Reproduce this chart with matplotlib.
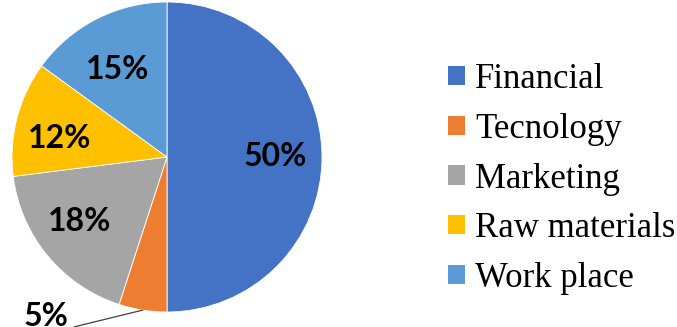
import numpy as np
import matplotlib
matplotlib.use("Agg")
import matplotlib.pyplot as plt
from matplotlib.patches import Patch

categories = ["Financial", "Tecnology", "Marketing", "Raw materials", "Work place"]
values = [50, 5, 18, 12, 15]
colors = ["#4472C4", "#ED7D31", "#A5A5A5", "#FFC000", "#5B9BD5"]

W, H = 677, 327
fig = plt.figure(figsize=(W / 100, H / 100), dpi=100)
cx, cy, R = 167, 157, 155
ax = fig.add_axes([(cx - R) / W, (H - cy - R) / H, 2 * R / W, 2 * R / H])

wedges, texts, autotexts = ax.pie(
    values, colors=colors, startangle=90, counterclock=False,
    autopct=lambda p: f"{p:.0f}%", pctdistance=0.70,
    wedgeprops=dict(edgecolor="white", linewidth=0.6),
    textprops=dict(family="Lato", fontweight="bold", fontsize=23, color="black"),
)
ax.set_xlim(-1, 1)
ax.set_ylim(-1, 1)
ax.set_aspect("equal")
ax.axis("off")

# slight label placement tweaks (pixels, x right / y down)
label_shift = [(0, 0), (0, 0), (-4, -5), (-2, 8), (0, 9)]
for t, (dx, dy) in zip(autotexts, label_shift):
    x, y = t.get_position()
    t.set_position((x + dx / R, y - dy / R))

# small slice label moved outside with leader line
i = 1
w = wedges[i]
ang = np.deg2rad((w.theta1 + w.theta2) / 2)
px, py = np.cos(ang), np.sin(ang)
autotexts[i].set_visible(False)
ax.annotate(f"{values[i]}%", xy=(px * 1.0, py * 1.0), xytext=(-0.78, -1.03),
            ha="center", va="center", family="Lato", fontweight="bold", fontsize=23,
            annotation_clip=False,
            arrowprops=dict(arrowstyle="-", color="#404040", lw=0.9,
                            relpos=(1.0, 0.1), shrinkA=2, shrinkB=0))

handles = [Patch(facecolor=c, edgecolor="none") for c in colors]
leg = fig.legend(handles, categories, loc="center left",
                 bbox_to_anchor=(448 / W, 1 - 179 / H),
                 frameon=False, prop=dict(family="Liberation Serif", size=25),
                 handlelength=0.48, handleheight=0.48, handletextpad=0.3,
                 labelspacing=0.48, borderpad=0, borderaxespad=0)

fig.savefig("out.png", dpi=100)
